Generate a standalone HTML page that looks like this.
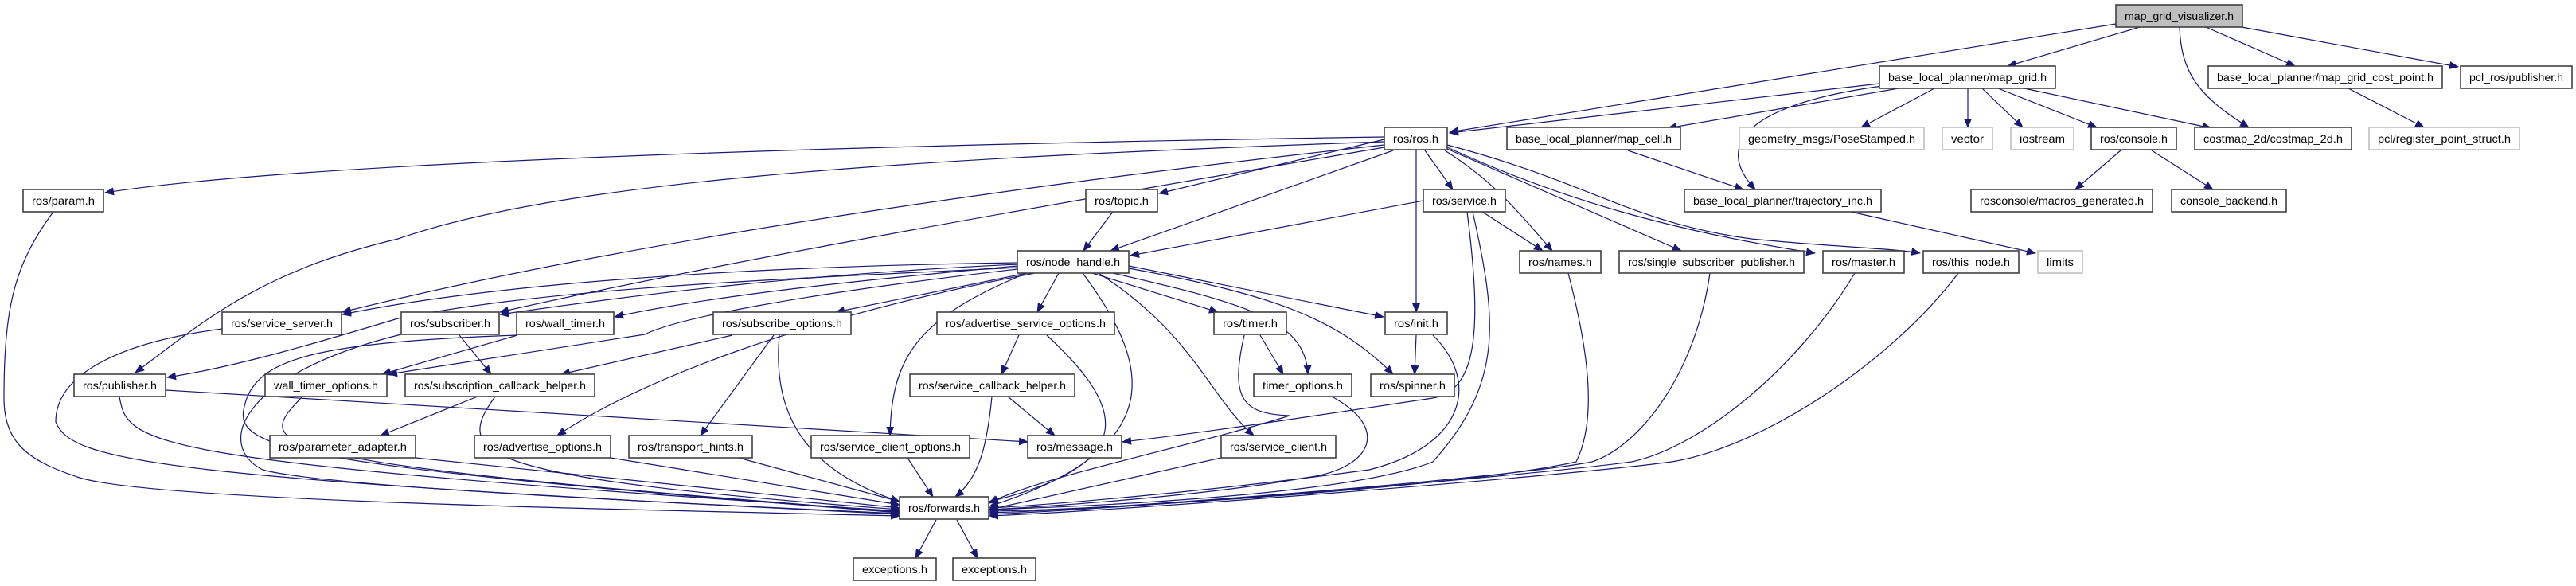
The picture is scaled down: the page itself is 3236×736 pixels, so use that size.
<!DOCTYPE html>
<html><head><meta charset="utf-8"><style>
html,body{margin:0;padding:0;background:#fff;width:3236px;height:736px;overflow:hidden}
svg{display:block}
text{font-family:"Liberation Sans",sans-serif;font-size:14px;fill:#000}
.n{fill:#fff;stroke:#404040;stroke-width:1.6}
.g{fill:#fff;stroke:#bfbfbf;stroke-width:1.6}
.r{fill:#bfbfbf;stroke:#404040;stroke-width:1.6}
.e{fill:none;stroke:#191970;stroke-width:1.2}
</style></head><body>
<svg width="3236" height="736" viewBox="0 0 3236 736" xmlns="http://www.w3.org/2000/svg">
<defs><marker id="a" markerUnits="userSpaceOnUse" markerWidth="12" markerHeight="10" refX="11" refY="5" orient="auto"><path d="M0,0 L12,5 L0,10 z" fill="#191970"/></marker></defs>
<g class="e" marker-end="url(#a)">
<path d="M2658,30 L1821,166"/>
<path d="M2688,34 L2522,83"/>
<path d="M2738,34 C2740,90 2760,120 2825,160"/>
<path d="M2771,34 L2883,83"/>
<path d="M2816,34 L3088,84"/>
<path d="M2361,105 L1821,167"/>
<path d="M2385,111 L2095,161"/>
<path d="M2365,108 C2200,130 2150,180 2205,238"/>
<path d="M2430,111 L2338,160"/>
<path d="M2472,111 L2472,160"/>
<path d="M2490,111 L2541,160"/>
<path d="M2510,111 L2634,160"/>
<path d="M2543,111 L2778,161"/>
<path d="M2950,111 L3045,160"/>
<path d="M2664,189 L2607,238"/>
<path d="M2703,189 L2780,238"/>
<path d="M2045,189 L2190,238"/>
<path d="M2325,266 L2557,318"/>
<path d="M1739,172 C1200,180 400,200 132,242"/>
<path d="M1739,178 C1100,200 700,230 500,300 C330,340 260,400 170,468"/>
<path d="M1739,182 C1300,230 800,300 430,392"/>
<path d="M1739,185 C1300,260 900,330 628,392"/>
<path d="M1739,175 L1456,243"/>
<path d="M1750,189 L1395,315"/>
<path d="M1790,189 L1825,238"/>
<path d="M1815,189 C1880,230 1910,270 1950,315"/>
<path d="M1779,189 L1779,392"/>
<path d="M1818,187 L2112,315"/>
<path d="M1818,185 C1960,250 2100,290 2280,318"/>
<path d="M1818,182 C2000,230 2050,280 2200,300 C2300,310 2380,312 2412,318"/>
<path d="M1788,252 L1420,321"/>
<path d="M1862,266 L1938,315"/>
<path d="M1843,266 C1860,400 1860,490 1800,500 C1600,530 1500,545 1410,555"/>
<path d="M1850,266 C1880,400 1890,480 1800,580 C1700,620 1400,635 1243,640"/>
<path d="M1398,266 L1361,315"/>
<path d="M1278,330 C900,335 600,360 430,395"/>
<path d="M1278,332 C1000,345 800,370 628,395"/>
<path d="M1278,334 C1100,350 900,370 772,398"/>
<path d="M1278,336 C1000,350 700,360 500,400 C400,430 300,460 210,474"/>
<path d="M1278,338 C1000,370 850,400 810,420 L488,470"/>
<path d="M1290,343 L1050,392"/>
<path d="M1300,343 C1000,400 800,480 700,547"/>
<path d="M1330,343 L1303,392"/>
<path d="M1290,343 C1150,400 1120,450 1118,547"/>
<path d="M1360,343 C1440,450 1480,560 1243,636"/>
<path d="M1372,343 L1530,392"/>
<path d="M1385,340 C1560,380 1640,400 1643,470"/>
<path d="M1418,334 L1738,398"/>
<path d="M1418,337 C1600,370 1680,400 1750,470"/>
<path d="M1380,343 C1500,420 1520,500 1575,547"/>
<path d="M972,421 L880,547"/>
<path d="M979,421 C970,520 1010,590 1130,630"/>
<path d="M920,421 L705,470"/>
<path d="M1280,421 L1258,470"/>
<path d="M1315,421 C1400,500 1450,580 1243,630"/>
<path d="M1266,498 L1325,547"/>
<path d="M1246,498 C1240,560 1230,600 1200,624"/>
<path d="M1583,421 L1612,470"/>
<path d="M1563,421 C1545,500 1560,520 1620,522 C1500,560 1300,600 1243,632"/>
<path d="M1779,421 L1777,470"/>
<path d="M1800,421 C1860,480 1840,560 1720,590 C1500,620 1300,635 1243,638"/>
<path d="M1673,498 C1750,540 1720,590 1640,600 C1500,625 1300,637 1243,640"/>
<path d="M1534,575 L1243,640"/>
<path d="M1140,575 L1172,624"/>
<path d="M928,575 L1130,630"/>
<path d="M767,575 L1130,634"/>
<path d="M522,575 L1130,638"/>
<path d="M600,498 L478,547"/>
<path d="M622,498 C570,570 590,600 1130,640"/>
<path d="M208,490 L1291,555"/>
<path d="M150,498 C160,560 180,580 1130,642"/>
<path d="M380,498 C320,560 300,580 1130,643"/>
<path d="M650,421 L480,470"/>
<path d="M650,421 C400,430 330,450 310,500 C290,560 300,580 1130,644"/>
<path d="M577,421 L617,470"/>
<path d="M504,420 C300,470 270,560 330,590 C400,610 800,630 1130,645"/>
<path d="M279,413 C150,430 70,470 70,530 C90,580 200,600 1130,646"/>
<path d="M67,266 C20,330 5,380 5,500 C5,560 40,580 100,600 C200,630 800,640 1130,648"/>
<path d="M1970,343 C1990,420 2010,520 1980,580 C1850,610 1400,640 1243,642"/>
<path d="M2148,343 C2130,470 2060,560 2000,580 C1900,600 1400,640 1243,644"/>
<path d="M2330,343 C2260,460 2140,560 2050,580 C1900,600 1400,640 1243,646"/>
<path d="M2460,343 C2380,450 2220,560 2100,580 C1950,600 1400,642 1243,648"/>
<path d="M1176,653 L1150,701"/>
<path d="M1202,653 L1228,701"/>
</g>
<g>
<rect class="r" x="2658" y="6" width="159" height="28"/><text x="2669" y="25" textLength="137" lengthAdjust="spacingAndGlyphs">map_grid_visualizer.h</text>
<rect class="n" x="2361" y="83" width="221" height="28"/><text x="2372" y="102" textLength="199" lengthAdjust="spacingAndGlyphs">base_local_planner/map_grid.h</text>
<rect class="n" x="2774" y="83" width="294" height="28"/><text x="2785" y="102" textLength="272" lengthAdjust="spacingAndGlyphs">base_local_planner/map_grid_cost_point.h</text>
<rect class="n" x="3091" y="83" width="140" height="28"/><text x="3102" y="102" textLength="118" lengthAdjust="spacingAndGlyphs">pcl_ros/publisher.h</text>
<rect class="n" x="1739" y="160" width="79" height="28"/><text x="1750" y="179" textLength="57" lengthAdjust="spacingAndGlyphs">ros/ros.h</text>
<rect class="n" x="1893" y="160" width="218" height="28"/><text x="1904" y="179" textLength="196" lengthAdjust="spacingAndGlyphs">base_local_planner/map_cell.h</text>
<rect class="g" x="2185" y="160" width="232" height="28"/><text x="2196" y="179" textLength="210" lengthAdjust="spacingAndGlyphs">geometry_msgs/PoseStamped.h</text>
<rect class="g" x="2440" y="160" width="63" height="28"/><text x="2451" y="179" textLength="41" lengthAdjust="spacingAndGlyphs">vector</text>
<rect class="g" x="2526" y="160" width="79" height="28"/><text x="2537" y="179" textLength="57" lengthAdjust="spacingAndGlyphs">iostream</text>
<rect class="n" x="2627" y="160" width="107" height="28"/><text x="2638" y="179" textLength="85" lengthAdjust="spacingAndGlyphs">ros/console.h</text>
<rect class="n" x="2757" y="160" width="197" height="28"/><text x="2768" y="179" textLength="175" lengthAdjust="spacingAndGlyphs">costmap_2d/costmap_2d.h</text>
<rect class="g" x="2976" y="160" width="189" height="28"/><text x="2987" y="179" textLength="167" lengthAdjust="spacingAndGlyphs">pcl/register_point_struct.h</text>
<rect class="n" x="29" y="238" width="101" height="28"/><text x="40" y="257" textLength="79" lengthAdjust="spacingAndGlyphs">ros/param.h</text>
<rect class="n" x="1364" y="238" width="90" height="28"/><text x="1375" y="257" textLength="68" lengthAdjust="spacingAndGlyphs">ros/topic.h</text>
<rect class="n" x="1788" y="238" width="103" height="28"/><text x="1799" y="257" textLength="81" lengthAdjust="spacingAndGlyphs">ros/service.h</text>
<rect class="n" x="2116" y="238" width="247" height="28"/><text x="2127" y="257" textLength="225" lengthAdjust="spacingAndGlyphs">base_local_planner/trajectory_inc.h</text>
<rect class="n" x="2476" y="238" width="228" height="28"/><text x="2487" y="257" textLength="206" lengthAdjust="spacingAndGlyphs">rosconsole/macros_generated.h</text>
<rect class="n" x="2728" y="238" width="144" height="28"/><text x="2739" y="257" textLength="122" lengthAdjust="spacingAndGlyphs">console_backend.h</text>
<rect class="n" x="1278" y="315" width="140" height="28"/><text x="1289" y="334" textLength="118" lengthAdjust="spacingAndGlyphs">ros/node_handle.h</text>
<rect class="n" x="1909" y="315" width="102" height="28"/><text x="1920" y="334" textLength="80" lengthAdjust="spacingAndGlyphs">ros/names.h</text>
<rect class="n" x="2034" y="315" width="232" height="28"/><text x="2045" y="334" textLength="210" lengthAdjust="spacingAndGlyphs">ros/single_subscriber_publisher.h</text>
<rect class="n" x="2290" y="315" width="102" height="28"/><text x="2301" y="334" textLength="80" lengthAdjust="spacingAndGlyphs">ros/master.h</text>
<rect class="n" x="2416" y="315" width="120" height="28"/><text x="2427" y="334" textLength="98" lengthAdjust="spacingAndGlyphs">ros/this_node.h</text>
<rect class="g" x="2560" y="315" width="56" height="28"/><text x="2571" y="334" textLength="34" lengthAdjust="spacingAndGlyphs">limits</text>
<rect class="n" x="279" y="392" width="150" height="28"/><text x="290" y="411" textLength="128" lengthAdjust="spacingAndGlyphs">ros/service_server.h</text>
<rect class="n" x="504" y="392" width="123" height="28"/><text x="515" y="411" textLength="101" lengthAdjust="spacingAndGlyphs">ros/subscriber.h</text>
<rect class="n" x="649" y="392" width="122" height="28"/><text x="660" y="411" textLength="100" lengthAdjust="spacingAndGlyphs">ros/wall_timer.h</text>
<rect class="n" x="896" y="392" width="173" height="28"/><text x="907" y="411" textLength="151" lengthAdjust="spacingAndGlyphs">ros/subscribe_options.h</text>
<rect class="n" x="1177" y="392" width="223" height="28"/><text x="1188" y="411" textLength="201" lengthAdjust="spacingAndGlyphs">ros/advertise_service_options.h</text>
<rect class="n" x="1525" y="392" width="91" height="28"/><text x="1536" y="411" textLength="69" lengthAdjust="spacingAndGlyphs">ros/timer.h</text>
<rect class="n" x="1740" y="392" width="78" height="28"/><text x="1751" y="411" textLength="56" lengthAdjust="spacingAndGlyphs">ros/init.h</text>
<rect class="n" x="93" y="470" width="115" height="28"/><text x="104" y="489" textLength="93" lengthAdjust="spacingAndGlyphs">ros/publisher.h</text>
<rect class="n" x="333" y="470" width="153" height="28"/><text x="344" y="489" textLength="131" lengthAdjust="spacingAndGlyphs">wall_timer_options.h</text>
<rect class="n" x="509" y="470" width="238" height="28"/><text x="520" y="489" textLength="216" lengthAdjust="spacingAndGlyphs">ros/subscription_callback_helper.h</text>
<rect class="n" x="1143" y="470" width="207" height="28"/><text x="1154" y="489" textLength="185" lengthAdjust="spacingAndGlyphs">ros/service_callback_helper.h</text>
<rect class="n" x="1575" y="470" width="123" height="28"/><text x="1586" y="489" textLength="101" lengthAdjust="spacingAndGlyphs">timer_options.h</text>
<rect class="n" x="1722" y="470" width="105" height="28"/><text x="1733" y="489" textLength="83" lengthAdjust="spacingAndGlyphs">ros/spinner.h</text>
<rect class="n" x="339" y="547" width="183" height="28"/><text x="350" y="566" textLength="161" lengthAdjust="spacingAndGlyphs">ros/parameter_adapter.h</text>
<rect class="n" x="596" y="547" width="171" height="28"/><text x="607" y="566" textLength="149" lengthAdjust="spacingAndGlyphs">ros/advertise_options.h</text>
<rect class="n" x="790" y="547" width="155" height="28"/><text x="801" y="566" textLength="133" lengthAdjust="spacingAndGlyphs">ros/transport_hints.h</text>
<rect class="n" x="1019" y="547" width="199" height="28"/><text x="1030" y="566" textLength="177" lengthAdjust="spacingAndGlyphs">ros/service_client_options.h</text>
<rect class="n" x="1291" y="547" width="118" height="28"/><text x="1302" y="566" textLength="96" lengthAdjust="spacingAndGlyphs">ros/message.h</text>
<rect class="n" x="1534" y="547" width="144" height="28"/><text x="1545" y="566" textLength="122" lengthAdjust="spacingAndGlyphs">ros/service_client.h</text>
<rect class="n" x="1130" y="624" width="112" height="28"/><text x="1141" y="643" textLength="90" lengthAdjust="spacingAndGlyphs">ros/forwards.h</text>
<rect class="n" x="1072" y="701" width="104" height="28"/><text x="1083" y="720" textLength="82" lengthAdjust="spacingAndGlyphs">exceptions.h</text>
<rect class="n" x="1197" y="701" width="104" height="28"/><text x="1208" y="720" textLength="82" lengthAdjust="spacingAndGlyphs">exceptions.h</text>
</g>
</svg>
</body></html>
